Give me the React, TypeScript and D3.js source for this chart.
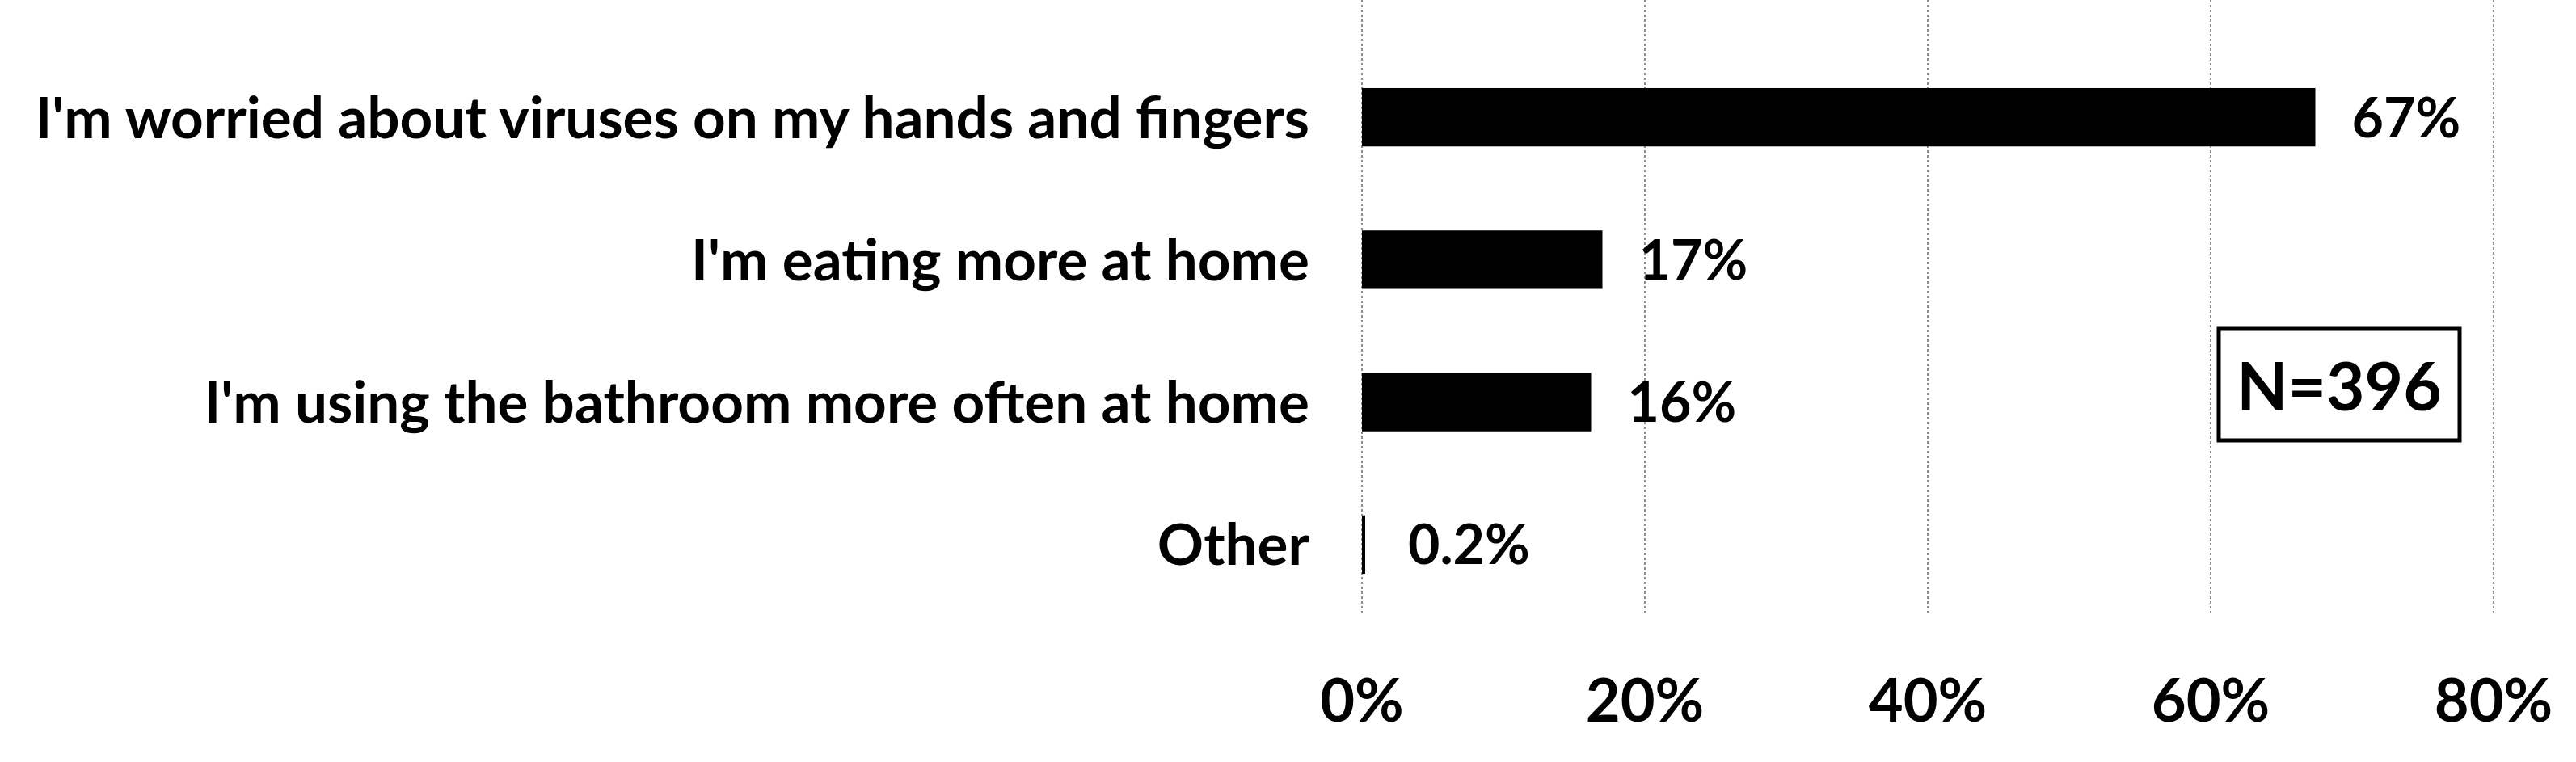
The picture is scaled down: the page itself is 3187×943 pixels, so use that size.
import { useEffect, useRef } from 'react';
import * as d3 from 'd3';

const categories = [
  "I'm worried about viruses on my hands and fingers",
  "I'm eating more at home",
  "I'm using the bathroom more often at home",
  'Other',
];
const values = [67.4, 17, 16.2, 0.2];
const valueLabels = ['67%', '17%', '16%', '0.2%'];
const ticks = [0, 20, 40, 60, 80];
const sampleNote = 'N=396';

const FONT = 'Lato, "Open Sans", sans-serif';

export default function App() {
  const svgRef = useRef<SVGSVGElement>(null);
  const width = 3187;
  const height = 943;

  useEffect(() => {
    const svg = d3.select(svgRef.current);
    svg.selectAll('*').remove();
    svg.attr('width', width).attr('height', height);

    svg.append('rect').attr('width', width).attr('height', height).attr('fill', '#fff');

    // escalas
    const x = d3.scaleLinear().domain([0, 80]).range([1685, 3085]);
    const y = d3.scaleBand<string>()
      .domain(categories)
      .range([57, 762])
      .paddingInner(0.59)
      .paddingOuter(0.295);

    // grade pontilhada
    svg.append('g')
      .selectAll('line')
      .data(ticks)
      .enter()
      .append('line')
      .attr('x1', d => x(d))
      .attr('x2', d => x(d))
      .attr('y1', 0)
      .attr('y2', 762)
      .attr('stroke', '#8c8c8c')
      .attr('stroke-width', 2)
      .attr('stroke-dasharray', '3,3');

    // rótulos do eixo x
    svg.append('g')
      .selectAll('text')
      .data(ticks)
      .enter()
      .append('text')
      .attr('x', d => x(d))
      .attr('y', 893)
      .attr('text-anchor', 'middle')
      .attr('font-family', FONT)
      .attr('font-weight', 'bold')
      .attr('font-size', 74)
      .text(d => `${d}%`);

    // barras
    svg.append('g')
      .selectAll('rect')
      .data(values)
      .enter()
      .append('rect')
      .attr('x', x(0))
      .attr('y', (d, i) => y(categories[i])!)
      .attr('width', d => Math.max(x(d) - x(0), 4))
      .attr('height', y.bandwidth())
      .attr('fill', '#000');

    // categorias
    svg.append('g')
      .selectAll('text')
      .data(categories)
      .enter()
      .append('text')
      .attr('x', x(0) - 65)
      .attr('y', d => y(d)! + y.bandwidth() / 2)
      .attr('dy', '0.36em')
      .attr('text-anchor', 'end')
      .attr('font-family', FONT)
      .attr('font-weight', 'bold')
      .attr('font-size', 71)
      .text(d => d);

    // valores
    svg.append('g')
      .selectAll('text')
      .data(values)
      .enter()
      .append('text')
      .attr('x', d => Math.max(x(d), x(0) + 12) + 45)
      .attr('y', (d, i) => y(categories[i])! + y.bandwidth() / 2)
      .attr('dy', '0.36em')
      .attr('font-family', FONT)
      .attr('font-weight', 'bold')
      .attr('font-size', 68)
      .text((d, i) => valueLabels[i]);

    // caixa N
    const box = svg.append('g');
    box.append('rect')
      .attr('x', 2745)
      .attr('y', 407)
      .attr('width', 298)
      .attr('height', 138)
      .attr('fill', '#fff')
      .attr('stroke', '#000')
      .attr('stroke-width', 5);
    box.append('text')
      .attr('x', 2894)
      .attr('y', 508)
      .attr('text-anchor', 'middle')
      .attr('font-family', FONT)
      .attr('font-weight', 'bold')
      .attr('font-size', 82)
      .text(sampleNote);
  }, []);

  return <svg ref={svgRef} style={{ position: 'absolute', left: 0, top: 0 }}></svg>;
}
